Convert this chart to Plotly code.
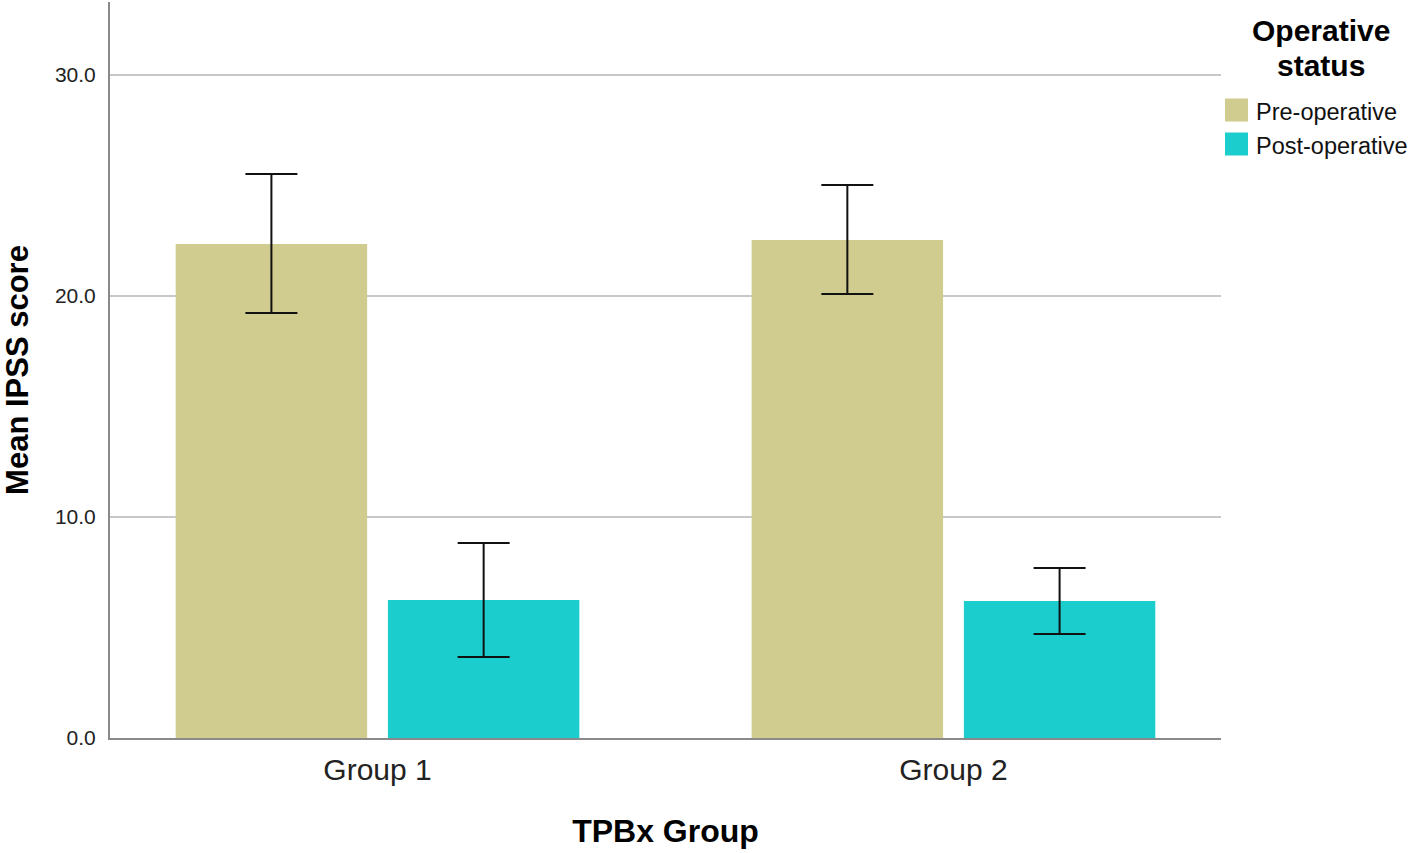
import plotly.graph_objects as go

categories = ["Group 1", "Group 2"]
series_names = ["Pre-operative", "Post-operative"]
series_colors = ["#D0CB8E", "#1BCDCD"]
pre_mean = [22.35, 22.53]
pre_upper = [25.52, 25.02]
pre_lower = [19.23, 20.09]
post_mean = [6.24, 6.20]
post_upper = [8.82, 7.69]
post_lower = [3.67, 4.71]
y_ticks = [0, 10, 20, 30]
y_tick_labels = ["0.0", "10.0", "20.0", "30.0"]
legend_title_lines = ["Operative", "status"]

FONT = "Liberation Sans, Arial, sans-serif"
L, R, T, B = 110, 197, 2, 115
W, H = 1418, 853
PW, PH = W - L - R, H - T - B


def px_x(x):
    return (x - L) / PW


def px_y(y):
    return 1.0 - (y - T) / PH


fig = go.Figure()
for name, color, mean, up, lo in [
    (series_names[0], series_colors[0], pre_mean, pre_upper, pre_lower),
    (series_names[1], series_colors[1], post_mean, post_upper, post_lower),
]:
    fig.add_trace(go.Bar(
        x=categories, y=mean, name=name,
        marker=dict(color=color, line=dict(width=0)),
        error_y=dict(
            type="data", symmetric=False,
            array=[u - m for u, m in zip(up, mean)],
            arrayminus=[m - l for m, l in zip(mean, lo)],
            color="#111111", thickness=2, width=26,
        ),
        showlegend=False,
    ))

# Legend drawn as shapes/annotations (paper coords)
for i, line in enumerate(legend_title_lines):
    fig.add_annotation(xref="paper", yref="paper", x=px_x(1321), y=px_y(31 + 34 * i),
                       text="<b>" + line + "</b>", showarrow=False,
                       xanchor="center", yanchor="middle",
                       font=dict(family=FONT, size=30, color="#000000"))
for i, (name, color) in enumerate(zip(series_names, series_colors)):
    yc = 110 + 34 * i
    fig.add_shape(type="rect", xref="paper", yref="paper",
                  x0=px_x(1225), x1=px_x(1248),
                  y0=px_y(yc + 11.5), y1=px_y(yc - 11.5),
                  fillcolor=color, line=dict(width=0))
    fig.add_annotation(xref="paper", yref="paper", x=px_x(1254), y=px_y(yc + 2),
                       text=name, showarrow=False, xanchor="left", yanchor="middle",
                       font=dict(family=FONT, size=23.5, color="#111111"))

fig.update_layout(
    width=W, height=H,
    margin=dict(l=L, r=R, t=T, b=B),
    paper_bgcolor="white", plot_bgcolor="white",
    barmode="group", bargap=0.263, bargroupgap=0.098,
    font=dict(family=FONT, color="#222222"),
    xaxis=dict(
        range=[-0.4645, 1.4645],
        showline=True, linecolor="#8A8A8A", linewidth=2,
        showgrid=False, zeroline=False,
        ticks="outside", ticklen=4, tickcolor="rgba(0,0,0,0)",
        tickfont=dict(size=30, family=FONT, color="#222222"),
        title=dict(text="<b>TPBx Group</b>", font=dict(size=32, family=FONT, color="#000000"), standoff=35),
    ),
    yaxis=dict(
        range=[0, 33.3],
        tickvals=y_ticks, ticktext=y_tick_labels,
        showline=True, linecolor="#8A8A8A", linewidth=2,
        showgrid=True, gridcolor="#C8C8C8", gridwidth=2,
        zeroline=False,
        ticks="outside", ticklen=8, tickcolor="rgba(0,0,0,0)",
        tickfont=dict(size=21, family=FONT, color="#222222"),
        title=dict(text="<b>Mean IPSS score</b>", font=dict(size=31, family=FONT, color="#000000"), standoff=26),
    ),
)

fig.write_html("out.html", config={"displayModeBar": False},
               post_script="document.body.style.margin='0px';")
